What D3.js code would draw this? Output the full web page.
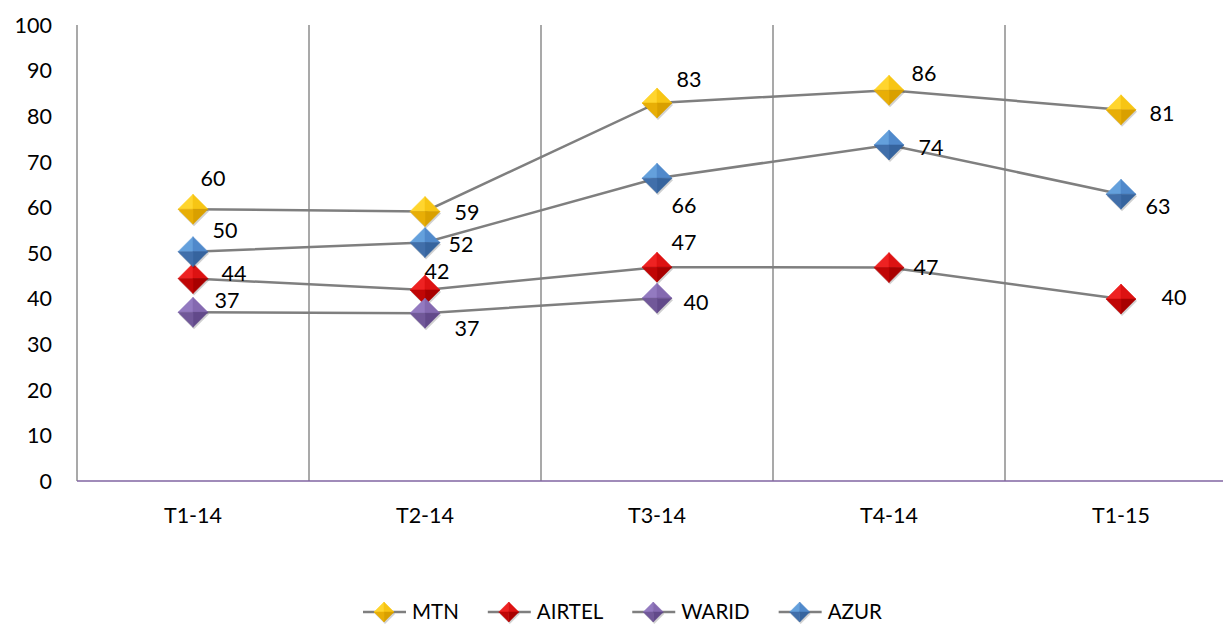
<!DOCTYPE html>
<html>
<head>
<meta charset="utf-8">
<script src="https://cdn.jsdelivr.net/npm/d3@7"></script>
<style>
  html, body { margin: 0; padding: 0; background: #fff; }
  svg text { font-family: Lato, "Open Sans", sans-serif; fill: #000; }
</style>
</head>
<body>
<svg id="chart" width="1223" height="625"></svg>
<script>
// Chart data
const categories = ['T1-14', 'T2-14', 'T3-14', 'T4-14', 'T1-15'];
const seriesNames = ['MTN', 'AIRTEL', 'WARID', 'AZUR'];
const mtnValues = [59.6, 59.1, 82.9, 85.7, 81.4];
const airtelValues = [44.4, 41.9, 46.9, 46.8, 39.9];
const waridValues = [37.0, 36.8, 40.1, null, null];
const azurValues = [50.3, 52.3, 66.4, 73.7, 62.9];
const yTicks = [0, 10, 20, 30, 40, 50, 60, 70, 80, 90, 100];

// Label offsets (px) from each marker, per series
const labelOffsets = {
    MTN: [[20, -31], [42, 1], [32, -24], [35, -17], [41, 3]],
    AIRTEL: [[41, -5], [12, -19], [27, -25], [37, 0], [53, -2]],
    WARID: [[34, -12], [42, 15], [39, 4]],
    AZUR: [[32, -21], [36, 2], [27, 27], [42, 2], [37, 12]]
};

// Marker facet colours: [top-left, top-right, bottom-right, bottom-left]
const palette = {
    MTN: ['#FFD52E', '#F7C514', '#D9A000', '#E8AE06'],
    AIRTEL: ['#EE2222', '#DD1212', '#A80000', '#C00606'],
    WARID: ['#937AC0', '#8469B0', '#62498A', '#715899'],
    AZUR: ['#64A0DC', '#5089CB', '#36649E', '#416FAA']
};

const valuesBySeries = { MTN: mtnValues, AIRTEL: airtelValues, WARID: waridValues, AZUR: azurValues };

const svg = d3.select('#chart');
const margin = { left: 77, top: 25, bottom: 481 };
const bandWidth = 232;

const x = d3.scaleBand()
    .domain(categories)
    .range([margin.left, margin.left + bandWidth * categories.length])
    .paddingInner(0).paddingOuter(0);

const y = d3.scaleLinear()
    .domain([0, 100])
    .range([margin.bottom, margin.top]);

const cx = d => x(d) + x.bandwidth() / 2;

// Vertical gridlines between categories
svg.append('g')
    .selectAll('line')
    .data(categories.slice(1))
    .join('line')
    .attr('x1', d => x(d)).attr('x2', d => x(d))
    .attr('y1', y(100)).attr('y2', y(0))
    .attr('stroke', '#8c8c8c')
    .attr('stroke-width', 1.5);

// Y axis line
svg.append('line')
    .attr('x1', margin.left).attr('x2', margin.left)
    .attr('y1', y(100)).attr('y2', y(0))
    .attr('stroke', '#8c8c8c')
    .attr('stroke-width', 1.5);

// Y tick labels
svg.append('g')
    .selectAll('text')
    .data(yTicks)
    .join('text')
    .attr('x', 52)
    .attr('y', d => y(d))
    .attr('dy', '0.36em')
    .attr('text-anchor', 'end')
    .attr('font-size', '21.5px')
    .text(d => d);

// X axis line (purple)
svg.append('line')
    .attr('x1', margin.left).attr('x2', 1223)
    .attr('y1', y(0)).attr('y2', y(0))
    .attr('stroke', '#8064A2')
    .attr('stroke-width', 1.5);

// X tick labels
svg.append('g')
    .selectAll('text')
    .data(categories)
    .join('text')
    .attr('x', d => cx(d))
    .attr('y', 515)
    .attr('dy', '0.36em')
    .attr('text-anchor', 'middle')
    .attr('font-size', '21.5px')
    .text(d => d);

// Marker drawing: four bevelled facets
function drawDiamond(g, name, r) {
    const c = palette[name];
    const facets = [
        [[0, 0], [-r, 0], [0, -r]],
        [[0, 0], [0, -r], [r, 0]],
        [[0, 0], [r, 0], [0, r]],
        [[0, 0], [0, r], [-r, 0]]
    ];
    g.append('path')
        .attr('d', `M${-r + 1},${2} L${1},${-r + 2} L${r + 1},${2} L${1},${r + 2}Z`)
        .attr('fill', 'rgba(0,0,0,0.18)');
    facets.forEach((f, i) => {
        g.append('path')
            .attr('d', 'M' + f.map(p => p.join(',')).join('L') + 'Z')
            .attr('fill', c[i])
            .attr('stroke', c[i])
            .attr('stroke-width', 0.5);
    });
}

const line = d3.line()
    .defined(d => d.v != null)
    .x(d => cx(d.cat))
    .y(d => y(d.v));

// Lines first
seriesNames.forEach(name => {
    const pts = categories.map((cat, i) => ({ cat, v: valuesBySeries[name][i] }));
    svg.append('path')
        .datum(pts)
        .attr('d', line)
        .attr('fill', 'none')
        .attr('stroke', '#7f7f7f')
        .attr('stroke-width', 2.5);
});

// Markers and data labels
seriesNames.forEach(name => {
    const pts = categories.map((cat, i) => ({ cat, v: valuesBySeries[name][i], i }))
        .filter(d => d.v != null);
    pts.forEach(d => {
        const g = svg.append('g').attr('transform', `translate(${cx(d.cat)},${y(d.v)})`);
        drawDiamond(g, name, 15);
    });
    svg.append('g')
        .selectAll('text')
        .data(pts)
        .join('text')
        .attr('x', d => cx(d.cat) + labelOffsets[name][d.i][0])
        .attr('y', d => y(d.v) + labelOffsets[name][d.i][1])
        .attr('dy', '0.36em')
        .attr('text-anchor', 'middle')
        .attr('font-size', '21.5px')
        .text(d => Math.round(d.v));
});

// Legend
const legend = svg.append('g');
let lx = 363;
const ly = 612;
seriesNames.forEach(name => {
    legend.append('line')
        .attr('x1', lx).attr('x2', lx + 43)
        .attr('y1', ly).attr('y2', ly)
        .attr('stroke', '#7f7f7f')
        .attr('stroke-width', 2.5);
    const g = legend.append('g').attr('transform', `translate(${lx + 21},${ly})`);
    drawDiamond(g, name, 10);
    const t = legend.append('text')
        .attr('x', lx + 49)
        .attr('y', ly)
        .attr('dy', '0.36em')
        .attr('font-size', '20.5px')
        .text(name);
    lx += 49 + t.node().getComputedTextLength() + 29;
});
</script>
</body>
</html>
